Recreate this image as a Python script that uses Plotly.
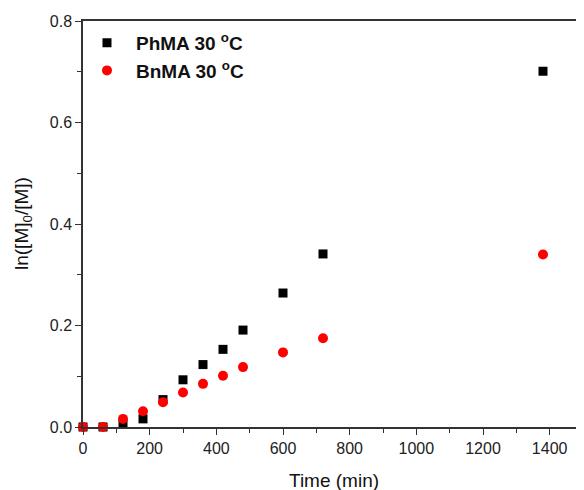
import plotly.graph_objects as go

time_ph = [0, 60, 120, 180, 240, 300, 360, 420, 480, 600, 720, 1380]
ln_ph = [0.0, 0.0, 0.005, 0.016, 0.054, 0.093, 0.123, 0.153, 0.191, 0.264, 0.341, 0.701]

time_bn = [0, 60, 120, 180, 240, 300, 360, 420, 480, 600, 720, 1380]
ln_bn = [0.0, 0.0, 0.016, 0.031, 0.049, 0.068, 0.085, 0.101, 0.118, 0.147, 0.175, 0.340]

x_ticks = [0, 200, 400, 600, 800, 1000, 1200, 1400]

name_ph = "PhMA 30 <sup>o</sup>C"
name_bn = "BnMA 30 <sup>o</sup>C"

FONT = "Liberation Sans, Arial"

fig = go.Figure()
fig.add_trace(go.Scatter(x=time_ph, y=ln_ph, mode="markers", name=name_ph, legendgroup="ph",
                         marker=dict(symbol="square", size=9, color="black",
                                     line=dict(width=0)), cliponaxis=False))
fig.add_trace(go.Scatter(x=time_bn, y=ln_bn, mode="markers", name=name_bn, legendgroup="bn",
                         marker=dict(symbol="circle", size=10, color="#ff0000",
                                     line=dict(width=0)), cliponaxis=False))

axis_common = dict(showgrid=False, zeroline=False, showline=True, linecolor="#333333",
                   linewidth=1.5, ticks="outside", ticklen=6, tickwidth=1.2,
                   tickcolor="#333333", automargin=False,
                   tickfont=dict(family=FONT, size=16, color="#222222"))

fig.update_xaxes(range=[0, 1503], tickvals=x_ticks, mirror=True,
                 minor=dict(dtick=100, tick0=0, ticklen=4, ticks="outside", tickcolor="#333333"),
                 **axis_common)
fig.update_yaxes(range=[0, 0.8], dtick=0.2, tick0=0, tickformat=".1f", mirror=True,
                 minor=dict(dtick=0.1, ticklen=4, ticks="outside", tickcolor="#333333"),
                 **axis_common)

fig.add_annotation(text="Time (min)", xref="paper", yref="paper", x=0.5, y=0,
                   yshift=-53, xanchor="center", yanchor="middle", showarrow=False,
                   font=dict(family=FONT, size=19, color="#111111"))
fig.add_annotation(text="ln([M]<sub>0</sub>/[M])", xref="paper", yref="paper", x=0, y=0.5,
                   xshift=-60, xanchor="center", yanchor="middle", textangle=-90, showarrow=False,
                   font=dict(family=FONT, size=19, color="#111111"))

# the page body adds an 8px offset; figure sized so the plot sits where the reference has it
fig.update_layout(width=576, height=482, plot_bgcolor="white", paper_bgcolor="white",
                  margin=dict(l=75, r=0, t=13, b=63),
                  legend=dict(x=-0.01, y=0.993, xanchor="left", yanchor="top",
                              bgcolor="rgba(0,0,0,0)", itemwidth=48,
                              traceorder="grouped", tracegroupgap=0,
                              font=dict(family=FONT, size=19, color="#111111",
                                        weight="bold")),
                  showlegend=True)

fig.write_html("out.html")
